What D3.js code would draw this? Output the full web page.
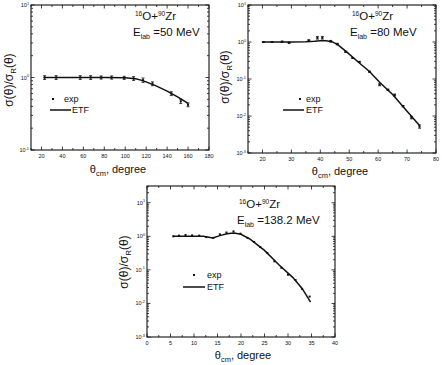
<!DOCTYPE html>
<html>
<head>
<meta charset="utf-8">
<script src="https://cdn.jsdelivr.net/npm/d3@7"></script>
<style>
  body { margin: 0; background: #fff; }
  svg { display: block; font-family: "Liberation Sans", Arial, sans-serif; }
</style>
</head>
<body>
<svg id="chart" width="442" height="365"></svg>
<script>
// 16O+90Zr, Elab = 50 MeV
const p1Theta = [23, 34, 57, 67, 77, 87, 99, 108, 117, 126, 144, 153, 160];
const p1Exp   = [1.0, 1.0, 1.0, 1.0, 1.0, 1.0, 0.99, 0.97, 0.92, 0.82, 0.6, 0.47, 0.42];
const p1Err   = [0.06, 0.06, 0.06, 0.06, 0.05, 0.05, 0.05, 0.06, 0.07, 0.06, 0.06, 0.07, 0.06];
const p1EtfTheta = [22, 40, 60, 80, 100, 105, 110, 115, 120, 130, 140, 150, 160];
const p1Etf      = [1.0, 1.0, 1.0, 1.0, 0.99, 0.98, 0.96, 0.92, 0.87, 0.76, 0.65, 0.54, 0.44];

// 16O+90Zr, Elab = 80 MeV
const p2Theta = [20.3, 23.3, 26.8, 29.2, 36, 39, 40.7, 43.6, 45.9, 48.8, 51.2, 53.5, 57, 60.5, 63.4, 65.7, 68.6, 71.5, 74.3];
const p2Exp   = [1.0, 1.0, 1.02, 0.95, 1.1, 1.3, 1.3, 1.05, 0.88, 0.54, 0.37, 0.29, 0.157, 0.07, 0.051, 0.037, 0.0185, 0.0091, 0.0052];
const p2Err   = [0.03, 0.03, 0.03, 0.03, 0.04, 0.08, 0.08, 0.05, 0.05, 0.03, 0.03, 0.03, 0.03, 0.06, 0.04, 0.06, 0.04, 0.08, 0.1];
const p2EtfTheta = [20.3, 25, 30, 35, 38, 40, 42, 44, 46, 49, 53.5, 57, 60.5, 65, 70, 74.3];
const p2Etf      = [1.0, 1.0, 1.0, 1.02, 1.05, 1.08, 1.08, 1.02, 0.85, 0.55, 0.27, 0.16, 0.082, 0.038, 0.0135, 0.0055];

// 16O+90Zr, Elab = 138.2 MeV
const p3Theta = [5.6, 6.8, 8.2, 9.6, 11.1, 12.6, 14.1, 15.5, 16.9, 18.4, 19.9, 21.4, 22.8, 24.1, 25.6, 27.1, 28.6, 30, 31.6, 33, 34.6];
const p3Exp   = [1.0, 1.05, 1.1, 1.07, 1.05, 0.95, 0.9, 1.15, 1.3, 1.4, 1.2, 0.9, 0.68, 0.48, 0.32, 0.18, 0.115, 0.072, 0.05, 0.027, 0.016];
const p3EtfTheta = [5.5, 8, 10, 12, 14, 15.5, 17, 18.5, 20, 22, 25, 28, 31, 33, 34.8];
const p3Etf      = [1.0, 1.0, 1.0, 1.0, 0.9, 1.05, 1.2, 1.25, 1.15, 0.81, 0.38, 0.145, 0.06, 0.028, 0.011];

const panels = [
  { theta: p1Theta, exp: p1Exp, err: p1Err, etfT: p1EtfTheta, etf: p1Etf,
    left: 31, right: 209, top: 5, bottom: 150,
    xDom: [10, 180], xMajor: d3.range(20, 181, 20), xMinor: d3.range(10, 181, 10),
    yDom: [0.1, 10], energy: "=50 MeV",
    note: [135, 20],
    legend: { dot: [53, 99], expX: 64, line: [50, 71, 110], etfX: 72 },
    yTitle: [13, 80], xTitle: [118, 173] },
  { theta: p2Theta, exp: p2Exp, err: p2Err, etfT: p2EtfTheta, etf: p2Etf,
    left: 248, right: 436, top: 5, bottom: 153,
    xDom: [15, 80], xMajor: d3.range(20, 81, 10), xMinor: d3.range(15, 81, 5),
    yDom: [0.001, 10], energy: "=80 MeV",
    note: [352, 20],
    legend: { dot: [300, 99], expX: 306, line: [283, 304, 110], etfX: 306 },
    yTitle: [229, 77], xTitle: [340, 175] },
  { theta: p3Theta, exp: p3Exp, err: null, etfT: p3EtfTheta, etf: p3Etf,
    left: 147, right: 335, top: 186, bottom: 337,
    xDom: [0, 40], xMajor: d3.range(0, 41, 5), xMinor: d3.range(0, 41, 2.5),
    yDom: [0.001, Math.pow(10, 1.5)], energy: "=138.2 MeV",
    note: [239, 208],
    legend: { dot: [194, 275], expX: 207, line: [183, 205, 287], etfX: 207 },
    yTitle: [128, 262], xTitle: [243, 359] }
];

const svg = d3.select("#chart");
const ink = "#111";

panels.forEach(p => {
  const x = d3.scaleLinear().domain(p.xDom).range([p.left, p.right]);
  const y = d3.scaleLog().domain(p.yDom).range([p.bottom, p.top]);
  const g = svg.append("g");

  // frame
  g.append("rect")
    .attr("x", p.left).attr("y", p.top)
    .attr("width", p.right - p.left).attr("height", p.bottom - p.top)
    .attr("fill", "none").attr("stroke", ink).attr("stroke-width", 1.1);

  // x ticks (inward, bottom and top)
  p.xMinor.forEach(v => {
    const major = p.xMajor.some(m => Math.abs(m - v) < 1e-9);
    const len = major ? 3.5 : 2;
    const xx = x(v);
    g.append("line").attr("x1", xx).attr("x2", xx)
      .attr("y1", p.bottom).attr("y2", p.bottom - len)
      .attr("stroke", ink).attr("stroke-width", 0.8);
    g.append("line").attr("x1", xx).attr("x2", xx)
      .attr("y1", p.top).attr("y2", p.top + len)
      .attr("stroke", ink).attr("stroke-width", 0.8);
  });
  g.selectAll(".xlab").data(p.xMajor).enter().append("text")
    .attr("x", d => x(d)).attr("y", p.bottom + 8)
    .attr("text-anchor", "middle").attr("font-size", 5.5).attr("fill", ink)
    .text(d => d);

  // y ticks (log, inward, left and right)
  const e0 = Math.floor(Math.log10(p.yDom[0]) + 1e-9);
  const e1 = Math.ceil(Math.log10(p.yDom[1]) - 1e-9);
  for (let e = e0; e <= e1; e++) {
    for (let k = 1; k <= 9; k++) {
      const v = k * Math.pow(10, e);
      if (v < p.yDom[0] * 0.999 || v > p.yDom[1] * 1.001) continue;
      const len = k === 1 ? 3.5 : 2;
      const yy = y(v);
      g.append("line").attr("x1", p.left).attr("x2", p.left + len)
        .attr("y1", yy).attr("y2", yy).attr("stroke", ink).attr("stroke-width", 0.8);
      g.append("line").attr("x1", p.right).attr("x2", p.right - len)
        .attr("y1", yy).attr("y2", yy).attr("stroke", ink).attr("stroke-width", 0.8);
      if (k === 1) {
        const t = g.append("text").attr("x", p.left - 2).attr("y", yy + 2)
          .attr("text-anchor", "end").attr("font-size", 5.5).attr("fill", ink);
        t.append("tspan").text("10");
        t.append("tspan").attr("font-size", 3.8).attr("dy", -2.5).text(e);
      }
    }
  }

  // ETF curve
  const line = d3.line().x(d => x(d[0])).y(d => y(d[1]));
  g.append("path")
    .datum(p.etfT.map((t, i) => [t, p.etf[i]]))
    .attr("d", line).attr("fill", "none")
    .attr("stroke", ink).attr("stroke-width", 1.5);

  // error bars
  if (p.err) {
    p.theta.forEach((t, i) => {
      const v = p.exp[i], dv = p.err[i] * v;
      const xx = x(t), ya = y(v + dv), yb = y(v - dv);
      g.append("line").attr("x1", xx).attr("x2", xx).attr("y1", ya).attr("y2", yb)
        .attr("stroke", ink).attr("stroke-width", 0.8);
      [ya, yb].forEach(yy => g.append("line")
        .attr("x1", xx - 1.5).attr("x2", xx + 1.5).attr("y1", yy).attr("y2", yy)
        .attr("stroke", ink).attr("stroke-width", 0.8));
    });
  }

  // exp points
  g.selectAll(".pt").data(p.theta).enter().append("rect")
    .attr("x", (d) => x(d) - 1).attr("y", (d, i) => y(p.exp[i]) - 1)
    .attr("width", 2).attr("height", 2).attr("fill", ink);

  // legend
  const L = p.legend;
  g.append("rect").attr("x", L.dot[0] - 1).attr("y", L.dot[1] - 1).attr("width", 2).attr("height", 2).attr("fill", ink);
  g.append("text").attr("x", L.expX).attr("y", L.dot[1] + 3).attr("font-size", 9).attr("fill", ink).text("exp");
  g.append("line").attr("x1", L.line[0]).attr("x2", L.line[1]).attr("y1", L.line[2]).attr("y2", L.line[2])
    .attr("stroke", ink).attr("stroke-width", 1.5);
  g.append("text").attr("x", L.etfX).attr("y", L.line[2] + 3).attr("font-size", 9).attr("fill", ink).text("ETF");

  // reaction note
  const [nx, ny] = p.note;
  const n1 = g.append("text").attr("x", nx).attr("y", ny).attr("font-size", 11.5).attr("fill", ink);
  n1.append("tspan").attr("font-size", 6.5).attr("dy", -4).text("16");
  n1.append("tspan").attr("dy", 4).text("O+");
  n1.append("tspan").attr("font-size", 6.5).attr("dy", -4).text("90");
  n1.append("tspan").attr("dy", 4).text("Zr");
  const n2 = g.append("text").attr("x", nx - 2).attr("y", ny + 16).attr("font-size", 11.5).attr("fill", ink);
  n2.append("tspan").text("E");
  n2.append("tspan").attr("font-size", 7).attr("dy", 3).text("lab");
  n2.append("tspan").attr("dy", -3).text(" " + p.energy);

  // axis titles
  const [tx, ty] = p.xTitle;
  const xt = g.append("text").attr("x", tx).attr("y", ty).attr("text-anchor", "middle")
    .attr("font-size", 11).attr("fill", ink);
  xt.append("tspan").text("θ");
  xt.append("tspan").attr("font-size", 7.5).attr("dy", 3).text("cm");
  xt.append("tspan").attr("dy", -3).text(", degree");

  const [yx, yy] = p.yTitle;
  const yt = g.append("text").attr("transform", `translate(${yx},${yy}) rotate(-90)`)
    .attr("text-anchor", "middle").attr("font-size", 12).attr("fill", ink);
  yt.append("tspan").text("σ(θ)/σ");
  yt.append("tspan").attr("font-size", 8).attr("dy", 3).text("R");
  yt.append("tspan").attr("dy", -3).text("(θ)");
});
</script>
</body>
</html>
